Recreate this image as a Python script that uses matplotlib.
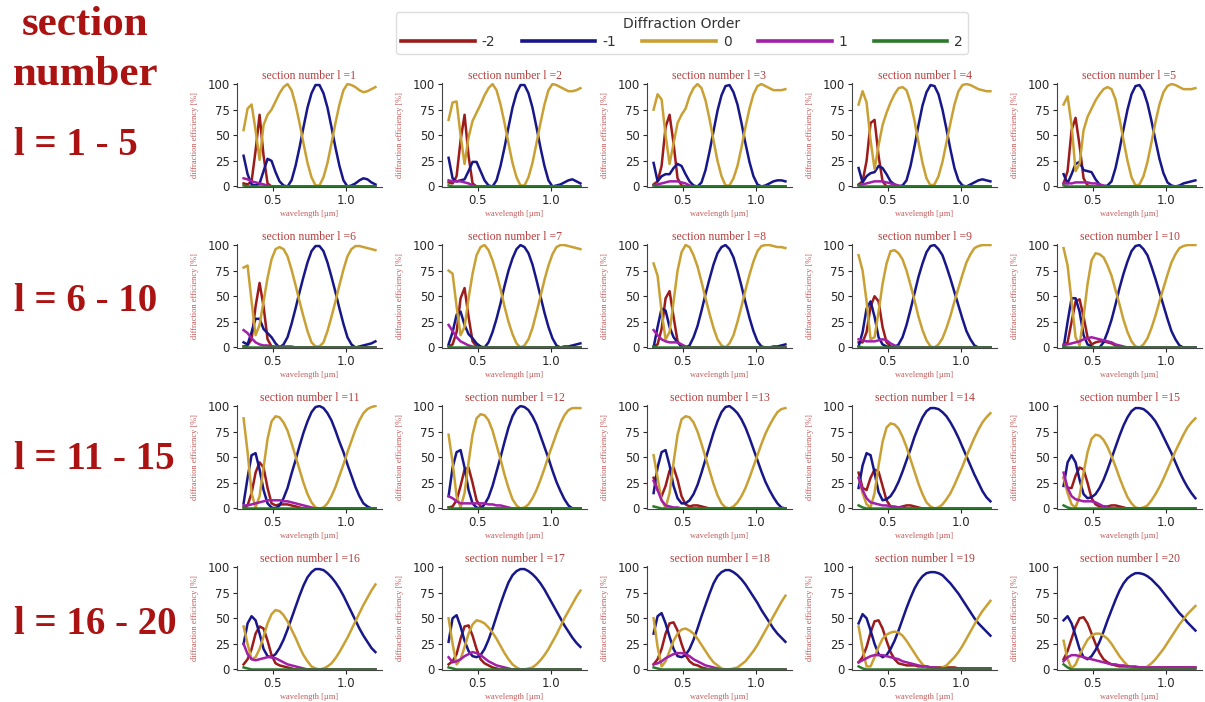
import numpy as np
import matplotlib
matplotlib.use("Agg")
import matplotlib.pyplot as plt
from matplotlib.lines import Line2D

# sampling grid of the simulated spectra (um)
wavelength = np.linspace(0.3, 1.2, 34)
section_numbers = list(range(1, 21))
order_labels = ["-2", "-1", "0", "1", "2"]
order_colors = ["#9c1b1b", "#17178a", "#c9a033", "#a21fa8", "#2c7a2c"]
row_labels = ["l = 1 - 5", "l = 6 - 10", "l = 11 - 15", "l = 16 - 20"]
x_ticks = [0.5, 1.0]
y_ticks = [0, 25, 50, 75, 100]

# diffraction efficiency [%] per section, order -2
order_m2 = [
    [3, 2, 5, 35, 70, 30, 3, 0, 0, 0,  0, 0, 0, 0, 0,  0, 0, 0, 0, 0,  0, 0, 0, 0, 0,  0, 0, 0, 0, 0,  0, 0, 0, 0],
    [4, 3, 10, 45, 70, 30, 3, 0, 0, 0,  0, 0, 0, 0, 0,  0, 0, 0, 0, 0,  0, 0, 0, 0, 0,  0, 0, 0, 0, 0,  0, 0, 0, 0],
    [2, 5, 20, 58, 70, 42, 8, 1, 0, 0,  0, 0, 0, 0, 0,  0, 0, 0, 0, 0,  0, 0, 0, 0, 0,  0, 0, 0, 0, 0,  0, 0, 0, 0],
    [2, 5, 25, 62, 65, 30, 5, 0, 0, 0,  0, 0, 0, 0, 0,  0, 0, 0, 0, 0,  0, 0, 0, 0, 0,  0, 0, 0, 0, 0,  0, 0, 0, 0],
    [3, 15, 55, 67, 40, 8, 1, 0, 0, 0,  0, 0, 0, 0, 0,  0, 0, 0, 0, 0,  0, 0, 0, 0, 0,  0, 0, 0, 0, 0,  0, 0, 0, 0],
    [1, 2, 8, 40, 63, 40, 8, 1, 0, 0,  0, 0, 0, 0, 0,  0, 0, 0, 0, 0,  0, 0, 0, 0, 0,  0, 0, 0, 0, 0,  0, 0, 0, 0],
    [1, 3, 15, 48, 58, 30, 6, 1, 0, 0,  0, 0, 0, 0, 0,  0, 0, 0, 0, 0,  0, 0, 0, 0, 0,  0, 0, 0, 0, 0,  0, 0, 0, 0],
    [1, 3, 18, 48, 55, 30, 6, 1, 0, 0,  0, 0, 0, 0, 0,  0, 0, 0, 0, 0,  0, 0, 0, 0, 0,  0, 0, 0, 0, 0,  0, 0, 0, 0],
    [5, 5, 15, 40, 50, 45, 20, 5, 1, 0,  0, 0, 0, 0, 0,  0, 0, 0, 0, 0,  0, 0, 0, 0, 0,  0, 0, 0, 0, 0,  0, 0, 0, 0],
    [2, 5, 25, 45, 47, 30, 10, 3, 5, 6,  6, 5, 4, 2, 1,  0, 0, 0, 0, 0,  0, 0, 0, 0, 0,  0, 0, 0, 0, 0,  0, 0, 0, 0],
    [1, 3, 15, 35, 45, 40, 20, 5, 3, 4,  4, 4, 3, 2, 1,  0, 0, 0, 0, 0,  0, 0, 0, 0, 0,  0, 0, 0, 0, 0,  0, 0, 0, 0],
    [1, 2, 8, 22, 38, 40, 25, 8, 2, 0,  0, 0, 0, 0, 0,  0, 0, 0, 0, 0,  0, 0, 0, 0, 0,  0, 0, 0, 0, 0,  0, 0, 0, 0],
    [30, 18, 12, 22, 37, 40, 28, 12, 4, 2,  3, 3, 2, 1, 0,  0, 0, 0, 0, 0,  0, 0, 0, 0, 0,  0, 0, 0, 0, 0,  0, 0, 0, 0],
    [35, 20, 18, 30, 38, 36, 22, 8, 2, 1,  1, 2, 3, 3, 2,  1, 0, 0, 0, 0,  0, 0, 0, 0, 0,  0, 0, 0, 0, 0,  0, 0, 0, 0],
    [30, 20, 20, 32, 40, 38, 25, 10, 4, 2,  2, 2, 3, 3, 2,  1, 0, 0, 0, 0,  0, 0, 0, 0, 0,  0, 0, 0, 0, 0,  0, 0, 0, 0],
    [5, 10, 20, 35, 42, 40, 28, 14, 6, 4,  3, 2, 1, 0, 0,  0, 0, 0, 0, 0,  0, 0, 0, 0, 0,  0, 0, 0, 0, 0,  0, 0, 0, 0],
    [5, 8, 15, 30, 42, 43, 33, 20, 10, 6,  4, 2, 1, 0, 0,  0, 0, 0, 0, 0,  0, 0, 0, 0, 0,  0, 0, 0, 0, 0,  0, 0, 0, 0],
    [5, 10, 20, 35, 45, 46, 38, 25, 14, 8,  5, 4, 2, 1, 0,  0, 0, 0, 0, 0,  0, 0, 0, 0, 0,  0, 0, 0, 0, 0,  0, 0, 0, 0],
    [7, 12, 22, 36, 47, 48, 40, 28, 17, 10,  6, 5, 4, 4, 4,  3, 3, 3, 2, 2,  2, 2, 2, 2, 2,  1, 1, 1, 1, 1,  1, 1, 1, 1],
    [10, 18, 30, 42, 50, 51, 45, 35, 25, 16,  10, 7, 5, 4, 3,  3, 3, 2, 2, 2,  2, 2, 2, 2, 2,  2, 2, 2, 2, 2,  2, 2, 2, 2],
]

# order -1
order_m1 = [
    [30, 12, 2, 1, 3, 15, 27, 25, 14, 5,  1, 0, 6, 20, 38,  58, 77, 91, 99, 99,  91, 77, 58, 38, 20,  6, 0, 1, 3, 6,  8, 7, 4, 2],
    [28, 8, 5, 6, 7, 15, 24, 24, 15, 6,  1, 0, 6, 20, 38,  58, 77, 91, 99, 99,  91, 77, 58, 38, 20,  6, 0, 1, 2, 4,  6, 7, 5, 3],
    [23, 5, 10, 12, 12, 18, 22, 20, 12, 5,  1, 0, 4, 16, 34,  54, 74, 89, 98, 99,  92, 80, 62, 42, 24,  10, 2, 0, 1, 3,  5, 6, 6, 5],
    [18, 4, 10, 13, 14, 20, 18, 12, 5, 2,  0, 1, 6, 20, 39,  60, 79, 92, 99, 98,  90, 75, 56, 36, 18,  6, 1, 0, 2, 4,  6, 7, 6, 5],
    [12, 3, 12, 22, 24, 16, 15, 14, 7, 2,  0, 1, 5, 18, 36,  56, 75, 90, 98, 99,  93, 81, 64, 45, 27,  13, 4, 1, 0, 1,  3, 4, 5, 6],
    [5, 3, 15, 28, 28, 18, 14, 10, 4, 0,  3, 10, 23, 38, 54,  69, 83, 94, 99, 99,  94, 83, 69, 54, 38,  23, 10, 3, 0, 1,  2, 3, 4, 6],
    [3, 15, 32, 35, 22, 13, 9, 4, 1, 0,  5, 15, 28, 43, 60,  75, 87, 96, 100, 98,  92, 81, 66, 50, 34,  20, 9, 2, 0, 1,  1, 2, 3, 4],
    [0, 20, 38, 36, 20, 10, 5, 1, 0, 2,  10, 21, 36, 52, 67,  81, 92, 98, 100, 96,  88, 75, 60, 44, 29,  16, 6, 1, 0, 0,  1, 1, 2, 3],
    [1, 15, 38, 45, 30, 10, 3, 1, 0, 0,  3, 10, 22, 37, 53,  69, 82, 93, 99, 100,  96, 90, 79, 67, 54,  41, 28, 16, 8, 2,  0, 0, 0, 0],
    [0, 25, 48, 48, 35, 12, 3, 1, 0, 0,  5, 15, 27, 42, 58,  72, 84, 94, 99, 100,  96, 90, 79, 67, 54,  41, 28, 16, 8, 2,  0, 0, 0, 0],
    [5, 30, 52, 54, 38, 18, 5, 1, 0, 3,  10, 20, 34, 47, 61,  74, 85, 94, 99, 100,  98, 93, 86, 76, 65,  55, 43, 32, 21, 12,  5, 2, 0, 0],
    [12, 40, 55, 57, 40, 18, 5, 1, 0, 4,  11, 22, 36, 50, 65,  79, 90, 97, 100, 99,  96, 90, 82, 71, 60,  49, 37, 26, 17, 9,  3, 0, 0, 0],
    [15, 40, 55, 57, 42, 22, 10, 5, 5, 8,  14, 23, 35, 48, 61,  74, 85, 94, 99, 100,  97, 93, 87, 79, 69,  58, 47, 36, 26, 18,  11, 5, 1, 0],
    [20, 42, 54, 52, 35, 16, 8, 9, 12, 18,  26, 36, 47, 58, 70,  80, 89, 95, 98, 98,  97, 94, 90, 84, 77,  69, 60, 51, 42, 33,  25, 17, 11, 7],
    [22, 45, 52, 45, 28, 14, 10, 11, 14, 20,  28, 38, 49, 60, 71,  81, 89, 95, 98, 98,  97, 94, 90, 85, 78,  70, 62, 54, 45, 36,  28, 21, 15, 10],
    [25, 45, 52, 48, 35, 20, 13, 12, 15, 21,  29, 39, 50, 61, 72,  82, 90, 95, 98, 98,  97, 94, 90, 85, 79,  72, 64, 56, 48, 40,  33, 27, 21, 17],
    [27, 50, 53, 42, 28, 18, 13, 12, 14, 20,  29, 40, 52, 64, 75,  85, 92, 96, 98, 98,  96, 93, 89, 84, 78,  71, 64, 57, 50, 43,  37, 31, 26, 22],
    [35, 52, 55, 45, 32, 20, 13, 12, 14, 20,  29, 40, 52, 63, 74,  84, 91, 95, 97, 97,  95, 92, 88, 83, 77,  71, 65, 58, 52, 46,  40, 35, 31, 27],
    [45, 54, 50, 38, 25, 15, 12, 14, 20, 28,  38, 49, 60, 70, 79,  86, 91, 94, 95, 95,  94, 92, 88, 84, 79,  74, 68, 62, 56, 50,  45, 41, 37, 33],
    [48, 52, 45, 33, 20, 12, 10, 13, 19, 27,  37, 48, 58, 68, 77,  84, 89, 92, 94, 94,  93, 91, 88, 84, 80,  75, 70, 65, 60, 55,  51, 46, 42, 38],
]

# order 0
order_0 = [
    [55, 76, 80, 55, 26, 60, 70, 75, 83, 91,  97, 100, 94, 80, 62,  42, 23, 9, 1, 1,  9, 23, 42, 62, 80,  94, 100, 99, 97, 94,  92, 93, 95, 97],
    [65, 82, 83, 50, 22, 48, 64, 72, 80, 89,  96, 100, 94, 80, 62,  42, 23, 9, 1, 1,  9, 23, 42, 62, 80,  94, 100, 99, 97, 95,  93, 93, 94, 96],
    [75, 90, 85, 50, 22, 42, 62, 70, 76, 88,  96, 100, 96, 84, 66,  45, 25, 10, 1, 1,  8, 20, 38, 58, 76,  90, 98, 100, 98, 96,  94, 94, 94, 95],
    [80, 93, 82, 45, 17, 40, 60, 72, 82, 90,  96, 97, 94, 82, 64,  43, 23, 8, 1, 2,  10, 24, 43, 62, 80,  93, 99, 100, 99, 97,  95, 94, 93, 93],
    [80, 88, 60, 15, 22, 55, 68, 76, 84, 90,  95, 97, 95, 85, 66,  45, 25, 9, 1, 2,  10, 24, 43, 63, 80,  92, 98, 100, 99, 97,  95, 95, 95, 96],
    [78, 80, 45, 12, 22, 45, 68, 86, 96, 98,  96, 89, 76, 61, 45,  30, 16, 5, 1, 1,  5, 16, 30, 45, 61,  76, 89, 96, 99, 99,  98, 97, 96, 95],
    [75, 72, 40, 12, 20, 48, 72, 90, 98, 100,  95, 85, 72, 57, 40,  25, 13, 4, 0, 2,  8, 19, 34, 50, 66,  80, 91, 98, 100, 100,  99, 98, 97, 96],
    [82, 70, 35, 8, 15, 45, 75, 93, 100, 98,  90, 79, 64, 48, 33,  19, 8, 2, 0, 4,  12, 25, 40, 56, 71,  84, 94, 99, 100, 100,  99, 98, 98, 97],
    [90, 75, 45, 8, 10, 35, 62, 82, 94, 95,  92, 86, 75, 61, 46,  30, 17, 7, 1, 0,  3, 9, 19, 31, 45,  58, 71, 83, 91, 97,  99, 100, 100, 100],
    [97, 80, 45, 10, 2, 30, 62, 85, 92, 91,  88, 80, 70, 56, 42,  27, 15, 6, 1, 0,  3, 9, 19, 31, 45,  58, 71, 83, 91, 97,  99, 100, 100, 100],
    [88, 55, 15, 1, 12, 40, 68, 85, 90, 89,  84, 76, 64, 51, 38,  25, 14, 6, 1, 0,  1, 5, 12, 21, 32,  43, 55, 66, 77, 86,  93, 97, 99, 100],
    [72, 45, 12, 1, 15, 45, 72, 88, 92, 91,  86, 76, 62, 48, 33,  20, 9, 3, 0, 1,  4, 10, 18, 28, 39,  51, 62, 73, 83, 91,  96, 98, 98, 98],
    [52, 30, 8, 1, 15, 45, 72, 87, 90, 89,  84, 75, 63, 50, 37,  24, 13, 5, 1, 0,  2, 6, 12, 20, 30,  41, 52, 63, 73, 81,  88, 94, 97, 98],
    [30, 15, 4, 1, 15, 42, 65, 79, 83, 82,  78, 70, 60, 48, 36,  24, 14, 6, 2, 0,  1, 4, 9, 15, 23,  32, 41, 51, 60, 69,  77, 84, 89, 93],
    [30, 15, 4, 1, 12, 35, 55, 68, 72, 71,  67, 60, 51, 41, 30,  20, 11, 5, 1, 0,  1, 3, 8, 14, 21,  29, 38, 47, 56, 64,  72, 79, 84, 88],
    [42, 25, 10, 12, 20, 32, 45, 54, 58, 57,  53, 47, 39, 31, 22,  14, 8, 3, 1, 0,  1, 3, 6, 11, 17,  24, 31, 39, 47, 55,  63, 70, 77, 83],
    [50, 25, 5, 10, 22, 35, 44, 48, 47, 45,  41, 36, 30, 23, 16,  10, 5, 2, 0, 0,  1, 2, 5, 9, 14,  20, 27, 34, 42, 50,  57, 64, 71, 77],
    [50, 22, 3, 8, 18, 28, 35, 39, 40, 38,  35, 30, 24, 18, 12,  7, 4, 1, 0, 0,  1, 2, 5, 8, 13,  18, 24, 31, 38, 45,  52, 59, 66, 72],
    [42, 20, 3, 3, 12, 22, 30, 34, 36, 37,  36, 33, 28, 22, 16,  10, 5, 2, 1, 0,  0, 2, 4, 8, 12,  17, 23, 30, 37, 44,  51, 57, 62, 67],
    [28, 10, 1, 5, 14, 22, 29, 33, 35, 35,  33, 30, 25, 19, 13,  8, 4, 1, 0, 0,  1, 3, 6, 10, 15,  20, 26, 32, 38, 44,  49, 54, 58, 62],
]

# order +1
order_p1 = [
    [8, 7, 5, 4, 3, 2, 1, 0, 0, 0,  0, 0, 0, 0, 0,  0, 0, 0, 0, 0,  0, 0, 0, 0, 0,  0, 0, 0, 0, 0,  0, 0, 0, 0],
    [6, 5, 5, 5, 4, 3, 1, 0, 0, 0,  0, 0, 0, 0, 0,  0, 0, 0, 0, 0,  0, 0, 0, 0, 0,  0, 0, 0, 0, 0,  0, 0, 0, 0],
    [1, 2, 3, 4, 5, 5, 5, 4, 3, 1,  0, 0, 0, 0, 0,  0, 0, 0, 0, 0,  0, 0, 0, 0, 0,  0, 0, 0, 0, 0,  0, 0, 0, 0],
    [1, 2, 3, 4, 5, 5, 5, 4, 3, 2,  1, 0, 0, 0, 0,  0, 0, 0, 0, 0,  0, 0, 0, 0, 0,  0, 0, 0, 0, 0,  0, 0, 0, 0],
    [3, 3, 3, 4, 4, 4, 4, 3, 3, 2,  1, 0, 0, 0, 0,  0, 0, 0, 0, 0,  0, 0, 0, 0, 0,  0, 0, 0, 0, 0,  0, 0, 0, 0],
    [17, 14, 9, 5, 3, 2, 2, 1, 1, 1,  1, 1, 1, 0, 0,  0, 0, 0, 0, 0,  0, 0, 0, 0, 0,  0, 0, 0, 0, 0,  0, 0, 0, 0],
    [22, 16, 10, 6, 4, 2, 1, 0, 0, 0,  0, 0, 0, 0, 0,  0, 0, 0, 0, 0,  0, 0, 0, 0, 0,  0, 0, 0, 0, 0,  0, 0, 0, 0],
    [17, 12, 8, 6, 5, 5, 5, 3, 1, 0,  0, 0, 0, 0, 0,  0, 0, 0, 0, 0,  0, 0, 0, 0, 0,  0, 0, 0, 0, 0,  0, 0, 0, 0],
    [8, 7, 6, 6, 6, 7, 8, 7, 4, 2,  1, 0, 0, 0, 0,  0, 0, 0, 0, 0,  0, 0, 0, 0, 0,  0, 0, 0, 0, 0,  0, 0, 0, 0],
    [3, 3, 4, 5, 6, 8, 9, 10, 9, 8,  7, 6, 5, 3, 2,  1, 0, 0, 0, 0,  0, 0, 0, 0, 0,  0, 0, 0, 0, 0,  0, 0, 0, 0],
    [3, 3, 4, 5, 6, 7, 8, 8, 8, 8,  7, 7, 6, 5, 4,  3, 2, 1, 0, 0,  0, 0, 0, 0, 0,  0, 0, 0, 0, 0,  0, 0, 0, 0],
    [12, 10, 7, 5, 5, 5, 5, 5, 5, 5,  4, 4, 3, 3, 2,  1, 0, 0, 0, 0,  0, 0, 0, 0, 0,  0, 0, 0, 0, 0,  0, 0, 0, 0],
    [27, 18, 8, 3, 2, 1, 1, 0, 0, 0,  0, 0, 0, 0, 0,  0, 0, 0, 0, 0,  0, 0, 0, 0, 0,  0, 0, 0, 0, 0,  0, 0, 0, 0],
    [30, 18, 10, 6, 5, 4, 3, 3, 2, 2,  1, 1, 0, 0, 0,  0, 0, 0, 0, 0,  0, 0, 0, 0, 0,  0, 0, 0, 0, 0,  0, 0, 0, 0],
    [35, 20, 12, 9, 8, 7, 7, 7, 6, 4,  2, 1, 0, 0, 0,  0, 0, 0, 0, 0,  0, 0, 0, 0, 0,  0, 0, 0, 0, 0,  0, 0, 0, 0],
    [25, 15, 10, 9, 10, 11, 12, 12, 11, 9,  7, 5, 4, 3, 2,  1, 0, 0, 0, 0,  0, 0, 0, 0, 0,  0, 0, 0, 0, 0,  0, 0, 0, 0],
    [12, 7, 8, 10, 13, 15, 17, 16, 14, 11,  8, 6, 4, 3, 2,  1, 0, 0, 0, 0,  0, 0, 0, 0, 0,  0, 0, 0, 0, 0,  0, 0, 0, 0],
    [5, 6, 8, 11, 13, 15, 16, 16, 15, 13,  10, 8, 6, 4, 3,  2, 1, 0, 0, 0,  0, 0, 0, 0, 0,  0, 0, 0, 0, 0,  0, 0, 0, 0],
    [7, 9, 11, 13, 14, 14, 14, 13, 12, 11,  10, 8, 7, 6, 5,  4, 3, 3, 2, 2,  1, 1, 1, 1, 1,  1, 1, 1, 1, 1,  1, 1, 1, 1],
    [8, 12, 14, 14, 13, 12, 11, 10, 9, 8,  7, 6, 5, 5, 4,  4, 3, 3, 3, 2,  2, 2, 2, 2, 2,  2, 2, 2, 2, 2,  2, 2, 2, 2],
]

# order +2
order_p2 = [
    [1, 0, 0, 0, 0, 0, 0, 0, 0, 0,  0, 0, 0, 0, 0,  0, 0, 0, 0, 0,  0, 0, 0, 0, 0,  0, 0, 0, 0, 0,  0, 0, 0, 0],
    [1, 0, 0, 0, 0, 0, 0, 0, 0, 0,  0, 0, 0, 0, 0,  0, 0, 0, 0, 0,  0, 0, 0, 0, 0,  0, 0, 0, 0, 0,  0, 0, 0, 0],
    [1, 0, 0, 0, 0, 0, 0, 0, 0, 0,  0, 0, 0, 0, 0,  0, 0, 0, 0, 0,  0, 0, 0, 0, 0,  0, 0, 0, 0, 0,  0, 0, 0, 0],
    [1, 0, 0, 0, 0, 0, 0, 0, 0, 0,  0, 0, 0, 0, 0,  0, 0, 0, 0, 0,  0, 0, 0, 0, 0,  0, 0, 0, 0, 0,  0, 0, 0, 0],
    [1, 0, 0, 0, 0, 0, 0, 0, 0, 0,  0, 0, 0, 0, 0,  0, 0, 0, 0, 0,  0, 0, 0, 0, 0,  0, 0, 0, 0, 0,  0, 0, 0, 0],
    [1, 0, 0, 0, 0, 0, 0, 0, 0, 0,  0, 0, 0, 0, 0,  0, 0, 0, 0, 0,  0, 0, 0, 0, 0,  0, 0, 0, 0, 0,  0, 0, 0, 0],
    [1, 0, 0, 0, 0, 0, 0, 0, 0, 0,  0, 0, 0, 0, 0,  0, 0, 0, 0, 0,  0, 0, 0, 0, 0,  0, 0, 0, 0, 0,  0, 0, 0, 0],
    [1, 0, 0, 0, 0, 0, 0, 0, 0, 0,  0, 0, 0, 0, 0,  0, 0, 0, 0, 0,  0, 0, 0, 0, 0,  0, 0, 0, 0, 0,  0, 0, 0, 0],
    [1, 0, 0, 0, 0, 0, 0, 0, 0, 0,  0, 0, 0, 0, 0,  0, 0, 0, 0, 0,  0, 0, 0, 0, 0,  0, 0, 0, 0, 0,  0, 0, 0, 0],
    [1, 0, 0, 0, 0, 0, 0, 0, 0, 0,  0, 0, 0, 0, 0,  0, 0, 0, 0, 0,  0, 0, 0, 0, 0,  0, 0, 0, 0, 0,  0, 0, 0, 0],
    [1, 0, 0, 0, 0, 0, 0, 0, 0, 0,  0, 0, 0, 0, 0,  0, 0, 0, 0, 0,  0, 0, 0, 0, 0,  0, 0, 0, 0, 0,  0, 0, 0, 0],
    [1, 0, 0, 0, 0, 0, 0, 0, 0, 0,  0, 0, 0, 0, 0,  0, 0, 0, 0, 0,  0, 0, 0, 0, 0,  0, 0, 0, 0, 0,  0, 0, 0, 0],
    [2, 1, 0, 0, 0, 0, 0, 0, 0, 0,  0, 0, 0, 0, 0,  0, 0, 0, 0, 0,  0, 0, 0, 0, 0,  0, 0, 0, 0, 0,  0, 0, 0, 0],
    [3, 1, 0, 0, 0, 0, 0, 0, 0, 0,  0, 0, 0, 0, 0,  0, 0, 0, 0, 0,  0, 0, 0, 0, 0,  0, 0, 0, 0, 0,  0, 0, 0, 0],
    [3, 1, 0, 0, 0, 0, 0, 0, 0, 0,  0, 0, 0, 0, 0,  0, 0, 0, 0, 0,  0, 0, 0, 0, 0,  0, 0, 0, 0, 0,  0, 0, 0, 0],
    [2, 1, 0, 0, 0, 0, 0, 0, 0, 0,  0, 0, 0, 0, 0,  0, 0, 0, 0, 0,  0, 0, 0, 0, 0,  0, 0, 0, 0, 0,  0, 0, 0, 0],
    [2, 1, 0, 0, 0, 0, 0, 0, 0, 0,  0, 0, 0, 0, 0,  0, 0, 0, 0, 0,  0, 0, 0, 0, 0,  0, 0, 0, 0, 0,  0, 0, 0, 0],
    [2, 1, 0, 0, 0, 0, 0, 0, 0, 0,  0, 0, 0, 0, 0,  0, 0, 0, 0, 0,  0, 0, 0, 0, 0,  0, 0, 0, 0, 0,  0, 0, 0, 0],
    [3, 1, 0, 0, 0, 0, 0, 0, 0, 0,  0, 0, 0, 0, 0,  0, 0, 0, 0, 0,  0, 0, 0, 0, 0,  0, 0, 0, 0, 0,  0, 0, 0, 0],
    [5, 2, 0, 0, 0, 0, 0, 0, 0, 0,  0, 0, 0, 0, 0,  0, 0, 0, 0, 0,  0, 0, 0, 0, 0,  0, 0, 0, 0, 0,  0, 0, 0, 0],
]

all_orders = [order_m2, order_m1, order_0, order_p1, order_p2]
for block in all_orders:
    for s in block:
        assert len(s) == len(wavelength), len(s)

W, H = 1205, 702
title_red = "#b5403f"
label_red = "#c45a5a"
big_red = "#ab1212"
serif = ["Liberation Serif", "DejaVu Serif"]

fig = plt.figure(figsize=(W / 100, H / 100), dpi=100)

for k, sec in enumerate(section_numbers):
    r, c = divmod(k, 5)
    left = (237 + 205 * c) / W
    bottom = 1 - (187 + 161 * r) / H
    ax = fig.add_axes([left, bottom, 145 / W, 104 / H])
    for block, color in zip(all_orders, order_colors):
        ax.plot(wavelength, block[k], color=color, lw=1.8)
    # x range keeps matplotlib's usual 5% margin around the data
    ax.margins(x=0.05)
    ax.set_ylim(-0.5, 101)
    ax.set_xticks(x_ticks)
    ax.set_yticks(y_ticks)
    ax.tick_params(labelsize=8.5, colors="#262626", length=3, pad=2, width=0.8)
    for side in ["top", "right"]:
        ax.spines[side].set_visible(False)
    for side in ["left", "bottom"]:
        ax.spines[side].set_color("#444444")
        ax.spines[side].set_linewidth(0.8)
    ax.set_title(f"section number l ={sec}", fontsize=8.5, family=serif,
                 color=title_red, pad=3)
    ax.set_xlabel("wavelength [µm]", fontsize=6, family=serif,
                  color=label_red, labelpad=2)
    ax.set_ylabel("diffraction efficiency [%]", fontsize=6, family=serif,
                  color=label_red, labelpad=6)

# legend on top
handles = [Line2D([], [], color=col, lw=2.6) for col in order_colors]
leg = fig.legend(handles, order_labels, title="Diffraction Order", ncol=5,
                 loc="upper center", bbox_to_anchor=(682 / W, 1 - 5 / H),
                 fontsize=10, title_fontsize=10, handlelength=5.3,
                 handletextpad=0.5, columnspacing=1.9, frameon=True,
                 edgecolor="#d5d5d5", borderpad=0.35, labelspacing=0.3)
for t in leg.get_texts():
    t.set_color("#333333")
leg.get_title().set_color("#333333")

# big labels on the left
fig.text(85 / W, 1 - 35 / H, "section", ha="center", va="baseline",
         fontsize=31, fontweight="bold", family=serif, color=big_red)
fig.text(86 / W, 1 - 85 / H, "number", ha="center", va="baseline",
         fontsize=31, fontweight="bold", family=serif, color=big_red)
for r, lab in enumerate(row_labels):
    base = [155, 311, 469, 634][r]
    fig.text(14 / W, 1 - base / H, lab, ha="left", va="baseline",
             fontsize=28, fontweight="bold", family=serif, color=big_red)

fig.savefig("out.png", dpi=100)
